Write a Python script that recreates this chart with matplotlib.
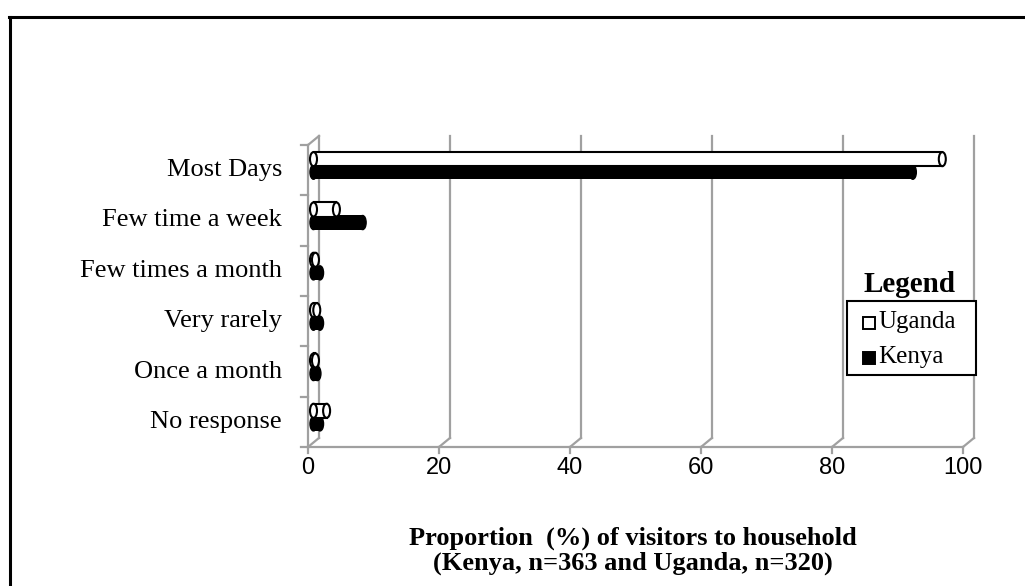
import numpy as np
import matplotlib
matplotlib.use('Agg')
import matplotlib.pyplot as plt
import matplotlib.transforms as mtransforms
from matplotlib.patches import Rectangle, Ellipse

categories = ['Most Days', 'Few time a week', 'Few times a month',
              'Very rarely', 'Once a month', 'No response']
uganda = [96.0, 3.5, 0.3, 0.5, 0.3, 2.0]
kenya = [91.5, 7.5, 1.0, 1.0, 0.6, 1.0]
xticks = [0, 20, 40, 60, 80, 100]

W, H = 1025, 586
fig = plt.figure(figsize=(W/100, H/100), dpi=100)
fig.patch.set_facecolor('white')

def fx(x):
    return x / W

def fy(y):
    return 1 - y / H

# plot area in pixels
left, right, top, bottom = 308, 963, 145, 447
ax = fig.add_axes([fx(left), fy(bottom), (right-left)/W, (bottom-top)/H])
ax.set_xlim(0, 100)
ax.set_ylim(len(categories)-0.5, -0.5)
ax.axis('off')

grey = '#a0a0a0'
dx, dy = 11, 9
back = mtransforms.offset_copy(ax.transData, fig=fig, x=dx, y=dy, units='dots')
mid = mtransforms.offset_copy(ax.transData, fig=fig, x=dx/2, y=dy/2, units='dots')
ybot, ytop = len(categories)-0.5, -0.5
px = 100.0 / (right-left)   # data units per pixel in x

# back wall gridlines with depth diagonals
for v in xticks:
    ax.plot([v, v], [ybot, ytop], color=grey, lw=1.6, transform=back, clip_on=False, zorder=1)
    ax.plot([v, v + dx*px], [ybot, ybot - dy/50.0], color=grey, lw=1.6, clip_on=False, zorder=1)
# top diagonal of left wall
ax.plot([0, dx*px], [ytop, ytop - dy/50.0], color=grey, lw=1.6, clip_on=False, zorder=1)

# front axes
ax.plot([0, 100], [ybot, ybot], color=grey, lw=1.6, clip_on=False, zorder=1)
ax.plot([0, 0], [ybot, ytop], color=grey, lw=1.6, clip_on=False, zorder=1)
for v in xticks:
    ax.plot([v, v], [ybot, ybot + 6/50.0], color=grey, lw=1.6, clip_on=False, zorder=1)
    ax.text(v, ybot + 21/50.0, str(v), ha='center', va='center',
            fontsize=17, family='Liberation Sans', clip_on=False)
for k in range(len(categories)+1):
    yy = k - 0.5
    ax.plot([0, -7*px], [yy, yy], color=grey, lw=1.6, clip_on=False, zorder=1)
for i, c in enumerate(categories):
    ax.text(-26*px, i, c, ha='right', va='center', fontsize=19,
            family='Liberation Serif', clip_on=False)

# cylinder bars
bh = 0.28
cap = 7 * px
for i in range(len(categories)):
    # Uganda (hollow)
    yc = i - 0.13
    L = uganda[i]
    ax.add_patch(Rectangle((0, yc - bh/2), L, bh, facecolor='white', edgecolor='none',
                           transform=mid, zorder=3))
    ax.plot([0, L], [yc - bh/2, yc - bh/2], color='black', lw=1.5, transform=mid, zorder=3)
    ax.plot([0, L], [yc + bh/2, yc + bh/2], color='black', lw=1.5, transform=mid, zorder=3)
    ax.add_patch(Ellipse((0, yc), cap, bh, facecolor='white', edgecolor='black',
                         lw=1.5, transform=mid, zorder=3))
    ax.add_patch(Ellipse((L, yc), cap, bh, facecolor='white', edgecolor='black',
                         lw=1.5, transform=mid, zorder=4))
    # Kenya (solid)
    yc = i + 0.13
    L = kenya[i]
    ax.add_patch(Rectangle((0, yc - bh/2), L, bh, facecolor='black', edgecolor='none',
                           transform=mid, zorder=2))
    ax.add_patch(Ellipse((0, yc), cap, bh, facecolor='black', edgecolor='black',
                         lw=1, transform=mid, zorder=2))
    ax.add_patch(Ellipse((L, yc), cap, bh, facecolor='black', edgecolor='black',
                         lw=1, transform=mid, zorder=2))

# x axis title
fig.text(fx(633), fy(538), 'Proportion  (%) of visitors to household',
         ha='center', va='center', fontsize=19, fontweight='bold', family='Liberation Serif')
fig.text(fx(633), fy(563), '(Kenya, n=363 and Uganda, n=320)',
         ha='center', va='center', fontsize=19, fontweight='bold', family='Liberation Serif')

# legend
fig.text(fx(910), fy(284), 'Legend', ha='center', va='center', fontsize=21,
         fontweight='bold', family='Liberation Serif')
fig.patches.append(Rectangle((fx(847), fy(375)), 129/W, 74/H, transform=fig.transFigure,
                             facecolor='white', edgecolor='black', lw=1.5, zorder=5))
fig.patches.append(Rectangle((fx(863), fy(329)), 12/W, 12/H, transform=fig.transFigure,
                             facecolor='white', edgecolor='black', lw=1.4, zorder=6))
fig.patches.append(Rectangle((fx(863), fy(364)), 12/W, 12/H, transform=fig.transFigure,
                             facecolor='black', edgecolor='black', lw=1.4, zorder=6))
fig.text(fx(878), fy(322), 'Uganda', ha='left', va='center', fontsize=18,
         family='Liberation Serif', zorder=7)
fig.text(fx(878), fy(357), 'Kenya', ha='left', va='center', fontsize=18,
         family='Liberation Serif', zorder=7)

# outer frame (top and left edges visible)
fig.add_artist(plt.Line2D([fx(9), fx(1025)], [fy(17), fy(17)], color='black', lw=2.2,
                          transform=fig.transFigure))
fig.add_artist(plt.Line2D([fx(10), fx(10)], [fy(17), fy(586)], color='black', lw=2.2,
                          transform=fig.transFigure))

fig.savefig('out.png', dpi=100)
